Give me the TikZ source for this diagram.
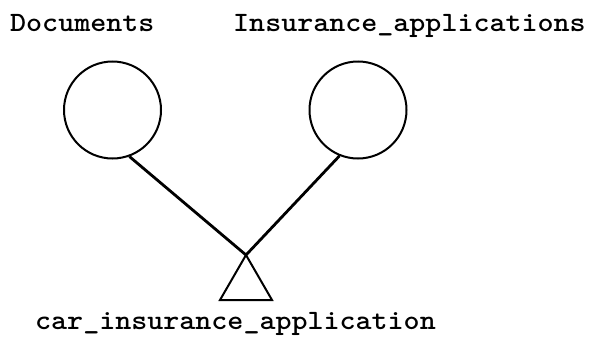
\documentclass[tikz,border=0pt]{standalone}
\usepackage{graphicx}
\usetikzlibrary{positioning}

\begin{document}
\begin{tikzpicture}[x=1pt, y=-1pt]
\tikzset{
  entity/.style={circle, draw, line width=2pt, minimum size=97pt, inner sep=0pt},
  lbl/.style={font=\ttfamily\bfseries\fontsize{28}{32}\selectfont, inner sep=0pt},
  link/.style={line width=2.8pt}
}
\newcommand{\widetype}[1]{\scalebox{1.09}[1]{#1}}
\useasboundingbox (0,0) rectangle (593,356);
%\draw[very thin,color=gray] (0,0) grid[step=50] (593,356);
\node[lbl, anchor=base west] (doclbl) at (10,31) {\widetype{Documents}};
\node[lbl, anchor=base west] (inslbl) at (233,31) {\widetype{Insurance\_applications}};
\node[entity] (docs) at (112.5,110) {};
\node[entity] (insapps) at (358,110) {};
\coordinate (apex) at (246,255);
\draw[link] (docs.-70) -- (apex);
\draw[link] (insapps.-112) -- (apex);
\draw[line width=2pt, line join=miter] (apex) -- ++(-26,45) -- ++(52,0) -- cycle;
\node[lbl, anchor=base west] (carlbl) at (35,329) {\widetype{car\_insurance\_application}};
\end{tikzpicture}
\end{document}
